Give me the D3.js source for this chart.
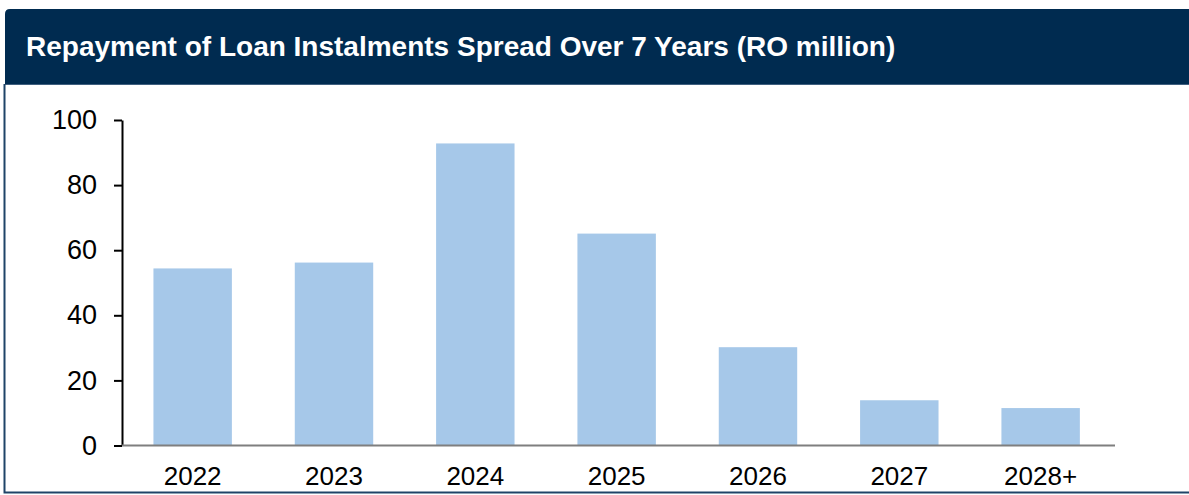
<!DOCTYPE html>
<html>
<head>
<meta charset="utf-8">
<script src="https://cdn.jsdelivr.net/npm/d3@7"></script>
<style>
  html, body { margin: 0; padding: 0; background: #fff; }
  svg { display: block; font-family: "Liberation Sans", Arial, sans-serif; }
</style>
</head>
<body>
<svg id="chart" width="1189" height="495"></svg>
<script>
const title = "Repayment of Loan Instalments Spread Over 7 Years (RO million)";
const years = ["2022", "2023", "2024", "2025", "2026", "2027", "2028+"];
const repayments = [54.4, 56.2, 92.8, 65.1, 30.2, 13.9, 11.5];
const yTicks = [0, 20, 40, 60, 80, 100];

const svg = d3.select("#chart");
const W = +svg.attr("width");

// header band with rounded top-left corner
const hx = 5, hy = 9, hh = 75, r = 5;
svg.append("path")
    .attr("d", `M${hx},${hy + hh}V${hy + r}Q${hx},${hy} ${hx + r},${hy}H${W}V${hy + hh}Z`)
    .attr("fill", "#002b50");
svg.append("line")
    .attr("x1", hx).attr("x2", W)
    .attr("y1", hy + hh + 0.5).attr("y2", hy + hh + 0.5)
    .attr("stroke", "#3f5f7f").attr("stroke-width", 1);

svg.append("text")
    .attr("x", 26)
    .attr("y", 56)
    .attr("fill", "#fff")
    .attr("font-size", 28)
    .attr("font-weight", "bold")
    .text(title);

// frame of the body: left and bottom only
svg.append("path")
    .attr("d", `M4.5,${hy + hh}V492.5H${W}`)
    .attr("fill", "none")
    .attr("stroke", "#1f4468")
    .attr("stroke-width", 2);

const x = d3.scaleBand()
    .domain(years)
    .range([122, 1111.3])
    .paddingInner(0.445)
    .paddingOuter(0.2225);

const y = d3.scaleLinear()
    .domain([0, 100])
    .range([445.5, 120]);

svg.selectAll(".bar")
    .data(years)
    .enter().append("rect")
    .attr("class", "bar")
    .attr("x", d => x(d))
    .attr("y", (d, i) => y(repayments[i]))
    .attr("width", x.bandwidth())
    .attr("height", (d, i) => y(0) - y(repayments[i]))
    .attr("fill", "#a6c8e9");

// x axis
const xAxis = svg.append("g")
    .attr("transform", `translate(0,${y(0)})`)
    .call(d3.axisBottom(x).tickSize(0).tickPadding(21));
xAxis.select(".domain")
    .attr("d", "M122,0H1115")
    .attr("stroke", "#7f7f7f")
    .attr("stroke-width", 2);
xAxis.selectAll("text")
    .attr("font-size", 26)
    .attr("font-family", "Liberation Sans, Arial, sans-serif")
    .attr("fill", "#000");

// y axis
const yAxis = svg.append("g")
    .attr("transform", "translate(122,0)")
    .call(d3.axisLeft(y).tickValues(yTicks).tickSize(8).tickSizeOuter(0).tickPadding(17));
yAxis.select(".domain").attr("stroke", "#000").attr("stroke-width", 2);
yAxis.selectAll(".tick line").attr("stroke", "#000").attr("stroke-width", 2);
yAxis.selectAll("text")
    .attr("font-size", 27)
    .attr("font-family", "Liberation Sans, Arial, sans-serif")
    .attr("fill", "#000");

xAxis.raise();
</script>
</body>
</html>
